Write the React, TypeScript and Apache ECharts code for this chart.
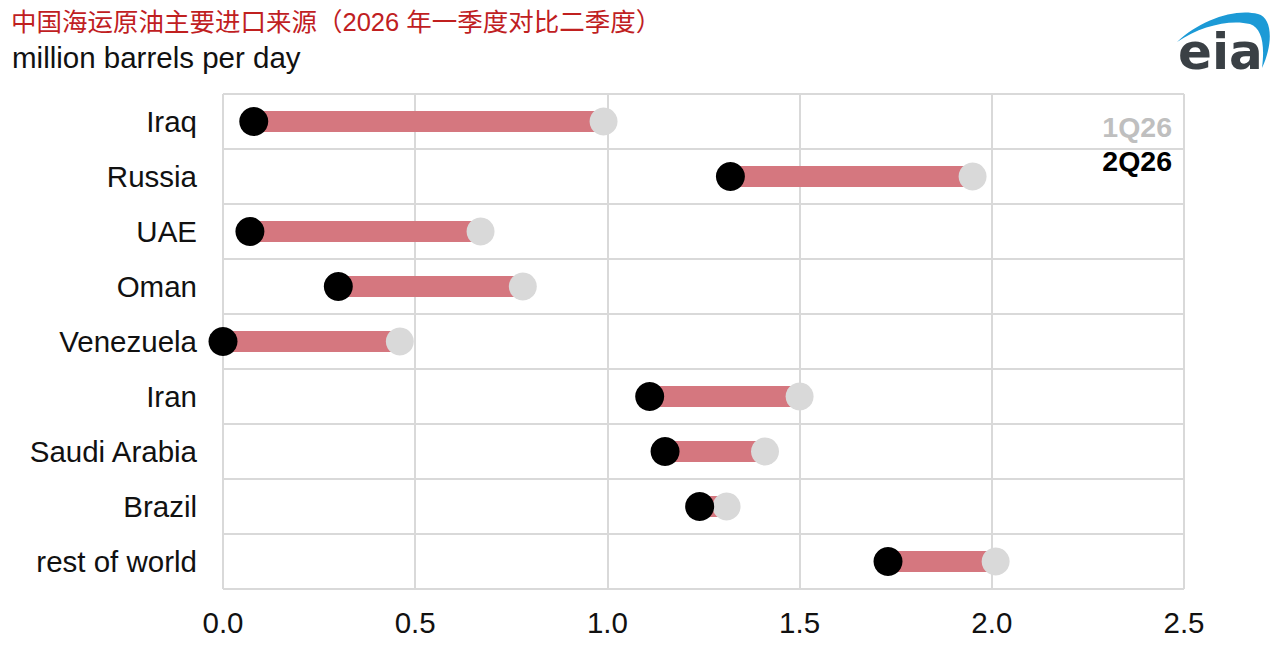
import React, { useEffect, useRef } from "react";
import * as echarts from "echarts";

const categories = ["Iraq", "Russia", "UAE", "Oman", "Venezuela", "Iran", "Saudi Arabia", "Brazil", "rest of world"];
const q1Values = [0.99, 1.95, 0.67, 0.78, 0.46, 1.5, 1.41, 1.31, 2.01];
const q2Values = [0.08, 1.32, 0.07, 0.3, 0.0, 1.11, 1.15, 1.24, 1.73];
const xTicks = [0, 0.5, 1.0, 1.5, 2.0, 2.5];
const seriesNames = ["1Q26", "2Q26"];
const titleText = "中国海运原油主要进口来源（2026 年一季度对比二季度）";
const unitText = "million barrels per day";

const FONT = "'Liberation Sans', Arial, 'Noto Sans CJK SC', sans-serif";
const LOGO_ARC =
  "M1177 42 C1200 20 1235 8 1258 14 C1273 18 1273 45 1262 68 C1265 45 1262 28 1250 24 C1230 19 1200 26 1177 42 Z";

export default function App() {
  const ref = useRef<HTMLDivElement>(null);
  useEffect(() => {
    if (!ref.current) return;
    try {
      echarts.graphic.registerShape("eiaArc", echarts.graphic.extendPath(LOGO_ARC, {}));
    } catch (e) {}
    const chart = echarts.init(ref.current, undefined, { renderer: "svg" });
    const base = q1Values.map((v, i) => Math.min(v, q2Values[i]));
    const diff = q1Values.map((v, i) => Math.abs(v - q2Values[i]));
    chart.setOption({
      animation: false,
      backgroundColor: "#ffffff",
      textStyle: { fontFamily: FONT },
      title: [
        {
          text: titleText,
          left: 11,
          top: 9,
          padding: 0,
          textStyle: { fontSize: 25.5, fontWeight: "normal", color: "#C0201F", fontFamily: FONT },
        },
        {
          text: unitText,
          left: 12,
          top: 43,
          padding: 0,
          textStyle: { fontSize: 29.5, fontWeight: "normal", color: "#111111", fontFamily: FONT },
        },
      ],
      grid: { left: 223, right: 96, top: 94, bottom: 56, containLabel: false },
      xAxis: {
        type: "value",
        min: 0,
        max: xTicks[xTicks.length - 1],
        interval: 0.5,
        axisLine: { show: false },
        axisTick: { show: false },
        axisLabel: {
          fontSize: 29.5,
          color: "#111111",
          margin: 19,
          fontFamily: FONT,
          formatter: (v: number) => v.toFixed(1),
        },
        splitLine: { show: true, lineStyle: { color: "#d9d9d9", width: 2 } },
      },
      yAxis: {
        type: "category",
        data: categories,
        inverse: true,
        axisLine: { show: false },
        axisTick: { show: false },
        axisLabel: { fontSize: 29.5, color: "#111111", margin: 26, fontFamily: FONT },
        splitLine: { show: true, lineStyle: { color: "#d9d9d9", width: 2 } },
      },
      graphic: [
        {
          type: "text",
          right: 108,
          top: 113,
          style: {
            text: seriesNames[0],
            fill: "#bfbfbf",
            font: `bold 28.5px ${FONT}`,
          },
        },
        {
          type: "text",
          right: 108,
          top: 147,
          style: {
            text: seriesNames[1],
            fill: "#000000",
            font: `bold 28.5px ${FONT}`,
          },
        },
        {
          type: "eiaArc",
          x: 0,
          y: 0,
          style: { fill: "#1C9AD6" },
        },
        {
          type: "text",
          left: 1178,
          top: 27,
          style: {
            text: "eia",
            fill: "#3a4045",
            font: `bold 50px 'DejaVu Sans', sans-serif`,
          },
        },
      ],
      series: [
        {
          type: "bar",
          stack: "range",
          data: base,
          barWidth: 21,
          itemStyle: { color: "transparent" },
          silent: true,
        },
        {
          type: "bar",
          stack: "range",
          data: diff,
          barWidth: 21,
          itemStyle: { color: "#D5777F" },
          silent: true,
        },
        {
          name: seriesNames[0],
          type: "scatter",
          data: q1Values,
          symbol: "circle",
          symbolSize: 28,
          itemStyle: { color: "#d9d9d9", opacity: 1 },
          clip: false,
          z: 3,
        },
        {
          name: seriesNames[1],
          type: "scatter",
          data: q2Values,
          symbol: "circle",
          symbolSize: 29,
          itemStyle: { color: "#000000", opacity: 1 },
          clip: false,
          z: 4,
        },
      ],
    });
    return () => chart.dispose();
  }, []);
  return (
    <div
      ref={ref}
      style={{ position: "fixed", left: 0, top: 0, width: 1280, height: 645, background: "#fff" }}
    />
  );
}
